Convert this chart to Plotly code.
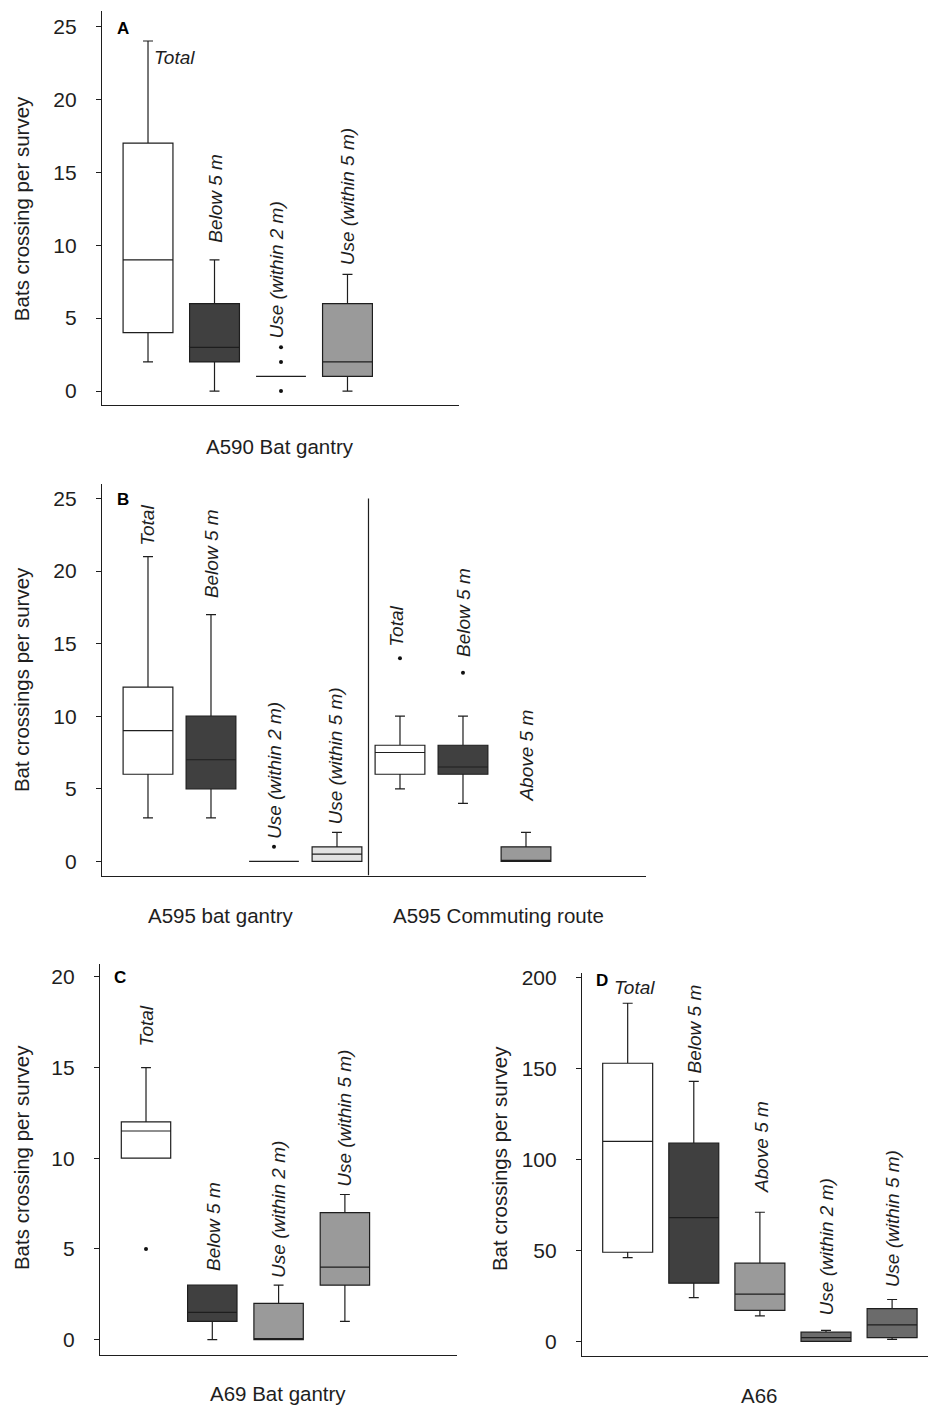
import plotly.graph_objects as go

W, H = 928, 1407

# ---------------- data ----------------
# Panel A : A590 Bat gantry
A_cats = ["Total", "Below 5 m", "Use (within 2 m)", "Use (within 5 m)"]
A_low = [2, 0, 1, 0]
A_q1 = [4, 2, 1, 1]
A_med = [9, 3, 1, 2]
A_q3 = [17, 6, 1, 6]
A_high = [24, 9, 1, 8]
A_out_cat = [2, 2, 2]
A_out_val = [0, 2, 3]

# Panel B : A595 bat gantry (first 4) + A595 Commuting route (last 3)
B_cats = ["Total", "Below 5 m", "Use (within 2 m)", "Use (within 5 m)",
          "Total", "Below 5 m", "Above 5 m"]
B_low = [3, 3, 0, 0, 5, 4, 0]
B_q1 = [6, 5, 0, 0, 6, 6, 0]
B_med = [9, 7, 0, 0.5, 7.5, 6.5, 0]
B_q3 = [12, 10, 0, 1, 8, 8, 1]
B_high = [21, 17, 0, 2, 10, 10, 2]
B_out_cat = [2, 4, 5]
B_out_val = [1, 14, 13]

# Panel C : A69 Bat gantry
C_cats = ["Total", "Below 5 m", "Use (within 2 m)", "Use (within 5 m)"]
C_low = [10, 0, 0, 1]
C_q1 = [10, 1, 0, 3]
C_med = [11.5, 1.5, 0, 4]
C_q3 = [12, 3, 2, 7]
C_high = [15, 3, 3, 8]
C_out_cat = [0]
C_out_val = [5]

# Panel D : A66
D_cats = ["Total", "Below 5 m", "Above 5 m", "Use (within 2 m)", "Use (within 5 m)"]
D_low = [46, 24, 14, 0, 1]
D_q1 = [49, 32, 17, 0, 2]
D_med = [110, 68, 26, 2, 9]
D_q3 = [153, 109, 43, 5, 18]
D_high = [186, 143, 71, 6, 23]
D_out_cat = []
D_out_val = []

# ---------------- styles / layout ----------------
WHITE, DARK, MID, LIGHT, DGREY = "#ffffff", "#404040", "#9a9a9a", "#e2e2e2", "#6b6b6b"
LINE = "#1e1e1e"
FONT = "Liberation Sans, Arial, sans-serif"
TICK_SIZE, TITLE_SIZE, LABEL_SIZE = 21, 20.5, 19

panels = [
    dict(letter="A", n="", cats=A_cats, low=A_low, q1=A_q1, med=A_med, q3=A_q3, high=A_high,
         ocat=A_out_cat, oval=A_out_val,
         fills=[WHITE, DARK, MID, MID],
         xdom=(102, 459), ydom=(5, 401), xr=(-0.692, 4.677), yr=(-0.976, 26.06),
         ticks=[0, 5, 10, 15, 20, 25], bw=0.75,
         ytitle="Bats crossing per survey", ytx=21, yty=204,
         xtitles=[("A590 Bat gantry", 280, 442)], letpos=(123, 23),
         lab=[("h", 22.87, 5), ("v", 10.1, 1), ("v", 3.5, -4), ("v", 8.56, 0)]),
    dict(letter="B", n="2", cats=B_cats, low=B_low, q1=B_q1, med=B_med, q3=B_q3, high=B_high,
         ocat=B_out_cat, oval=B_out_val,
         fills=[WHITE, DARK, MID, LIGHT, WHITE, DARK, MID],
         xdom=(102, 646), ydom=(480, 873.3), xr=(-0.730, 7.905), yr=(-0.979, 26.0),
         ticks=[0, 5, 10, 15, 20, 25], bw=0.79,
         ytitle="Bat crossings per survey", ytx=21, yty=677,
         xtitles=[("A595 bat gantry", 220, 913), ("A595 Commuting route", 498, 913)],
         letpos=(123, 496),
         lab=[("v", 21.7, 0), ("v", 18.1, 0), ("v", 1.5, 0), ("v", 2.5, -1),
              ("v", 14.75, -3), ("v", 14.05, 1), ("v", 4.05, 1)]),
    dict(letter="C", n="3", cats=C_cats, low=C_low, q1=C_q1, med=C_med, q3=C_q3, high=C_high,
         ocat=C_out_cat, oval=C_out_val,
         fills=[WHITE, DARK, MID, MID],
         xdom=(100, 457), ydom=(961.7, 1354.3), xr=(-0.694, 4.691), yr=(-0.823, 20.73),
         ticks=[0, 5, 10, 15, 20], bw=0.745,
         ytitle="Bats crossing per survey", ytx=21, yty=1157,
         xtitles=[("A69 Bat gantry", 278, 1393)], letpos=(120, 976),
         lab=[("v", 16.08, 0), ("v", 3.72, 1), ("v", 3.35, 0), ("v", 8.39, 0)]),
    dict(letter="D", n="4", cats=D_cats, low=D_low, q1=D_q1, med=D_med, q3=D_q3, high=D_high,
         ocat=D_out_cat, oval=D_out_val,
         fills=[WHITE, DARK, MID, DGREY, DGREY],
         xdom=(582, 928), ydom=(970.7, 1356), xr=(-0.691, 4.543), yr=(-8.22, 202.9),
         ticks=[0, 50, 100, 150, 200], bw=0.756,
         ytitle="Bat crossings per survey", ytx=499, yty=1158,
         xtitles=[("A66", 759, 1395)], letpos=(602, 979),
         lab=[("h", 194.7, 7), ("v", 147, 1), ("v", 81, 1), ("v", 13.4, 0), ("v", 28.9, 0)]),
]

fig = go.Figure()
annotations = []
shapes = []
layout = dict(width=W, height=H, margin=dict(l=0, r=0, t=0, b=0),
              paper_bgcolor="white", plot_bgcolor="white", showlegend=False,
              boxmode="overlay", font=dict(family=FONT, color=LINE))

for p in panels:
    n = p["n"]
    xa, ya = "x" + n, "y" + n
    for i in range(len(p["cats"])):
        fig.add_trace(go.Box(
            x=[i], q1=[p["q1"][i]], median=[p["med"][i]], q3=[p["q3"][i]],
            lowerfence=[p["low"][i]], upperfence=[p["high"][i]],
            width=p["bw"], whiskerwidth=0.2, fillcolor=p["fills"][i],
            line=dict(color=LINE, width=1.2), boxpoints=False,
            xaxis=xa, yaxis=ya, hoverinfo="skip", name=p["cats"][i]))
    if p["ocat"]:
        fig.add_trace(go.Scatter(
            x=p["ocat"], y=p["oval"], mode="markers",
            marker=dict(size=4, color="#111111"), xaxis=xa, yaxis=ya, hoverinfo="skip"))
    x0, x1 = p["xdom"]
    yt, yb = p["ydom"]
    layout["xaxis" + n] = dict(domain=[x0 / W, x1 / W], range=list(p["xr"]),
                               anchor=ya, showline=True, linecolor=LINE, linewidth=1.2,
                               showticklabels=False, ticks="", showgrid=False, zeroline=False,
                               fixedrange=True)
    layout["yaxis" + n] = dict(domain=[1 - yb / H, 1 - yt / H], range=list(p["yr"]),
                               anchor=xa, showline=True, linecolor=LINE, linewidth=1.2,
                               tickvals=p["ticks"], ticks="outside", ticklen=5,
                               tickcolor=LINE, tickwidth=1.2, ticklabelstandoff=15,
                               tickfont=dict(size=TICK_SIZE, family=FONT, color=LINE),
                               showgrid=False, zeroline=False, fixedrange=True)
    # panel letter
    annotations.append(dict(text="<b>%s</b>" % p["letter"], xref="paper", yref="paper",
                            x=p["letpos"][0] / W, y=1 - p["letpos"][1] / H,
                            xanchor="center", yanchor="middle", showarrow=False,
                            font=dict(size=17, family=FONT, color="#000")))
    # y title
    annotations.append(dict(text=p["ytitle"], xref="paper", yref="paper",
                            x=p["ytx"] / W, y=1 - p["yty"] / H, textangle=-90,
                            xanchor="center", yanchor="middle", showarrow=False,
                            font=dict(size=TITLE_SIZE, family=FONT, color=LINE)))
    # x titles
    for t, tx, ty in p["xtitles"]:
        annotations.append(dict(text=t, xref="paper", yref="paper", x=tx / W, y=1 - ty / H,
                                xanchor="center", yanchor="middle", showarrow=False,
                                font=dict(size=TITLE_SIZE, family=FONT, color=LINE)))
    # category labels
    for i, (orient, ly, shift) in enumerate(p["lab"]):
        if orient == "h":
            annotations.append(dict(text="<i>%s</i>" % p["cats"][i], xref=xa, yref=ya,
                                    x=i, y=ly, xanchor="left" if p["letter"] == "A" else "center",
                                    yanchor="middle", xshift=shift, showarrow=False,
                                    borderpad=0,
                                    font=dict(size=LABEL_SIZE, family=FONT, color=LINE)))
        else:
            annotations.append(dict(text="<i>%s</i>" % p["cats"][i], xref=xa, yref=ya,
                                    x=i, y=ly, textangle=-90, xanchor="center",
                                    yanchor="bottom", xshift=shift, showarrow=False,
                                    borderpad=0,
                                    font=dict(size=LABEL_SIZE, family=FONT, color=LINE)))

# divider between the two B sites
shapes.append(dict(type="line", xref="x2", yref="y2", x0=3.5, x1=3.5, y0=-0.979, y1=25,
                   line=dict(color=LINE, width=1.2)))

layout["annotations"] = annotations
layout["shapes"] = shapes
fig.update_layout(**layout)

# pin the figure to the page's top-left corner (no body margin)
post = ("document.body.style.margin='0';document.body.style.overflow='hidden';"
        "var gd=document.getElementById('{plot_id}');"
        "gd.style.position='absolute';gd.style.left='0px';gd.style.top='0px';")
fig.write_html("out.html", post_script=post, config={"displayModeBar": False})
